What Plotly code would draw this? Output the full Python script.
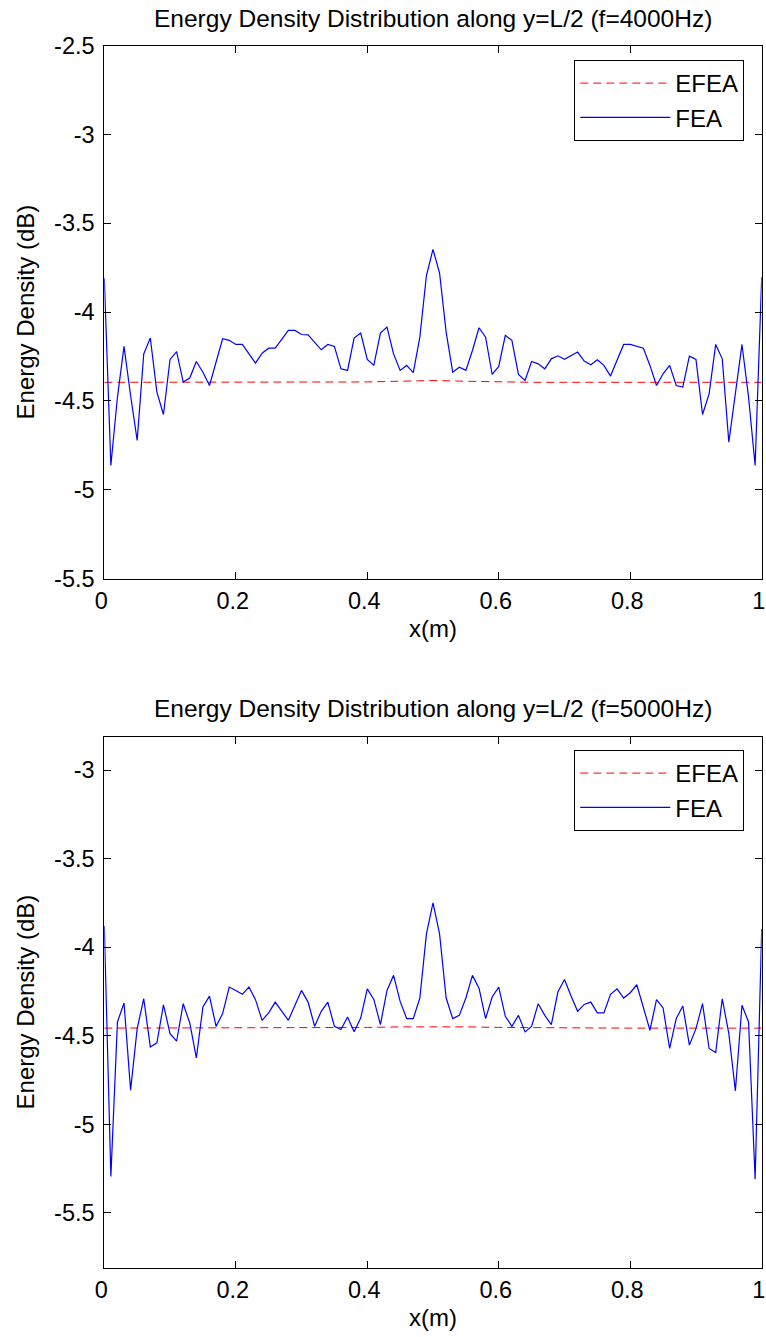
import plotly.graph_objects as go

# ---- data ----
x_pos = [round(i * 0.01, 2) for i in range(101)]

fea_4000 = [
    -3.810, -4.863, -4.478, -4.193, -4.469, -4.722, -4.235, -4.146, -4.450, -4.576,
    -4.266, -4.223, -4.394, -4.371, -4.278, -4.338, -4.413, -4.281, -4.150, -4.159,
    -4.182, -4.182, -4.238, -4.287, -4.231, -4.203, -4.203, -4.150, -4.103, -4.103,
    -4.126, -4.128, -4.169, -4.212, -4.182, -4.193, -4.319, -4.328, -4.146, -4.118,
    -4.266, -4.300, -4.118, -4.084, -4.235, -4.328, -4.300, -4.341, -4.141, -3.794,
    -3.647, -3.780, -4.113, -4.338, -4.310, -4.328, -4.216, -4.088, -4.141, -4.351,
    -4.306, -4.131, -4.159, -4.351, -4.385, -4.278, -4.291, -4.319, -4.263, -4.246,
    -4.265, -4.246, -4.225, -4.276, -4.296, -4.268, -4.300, -4.360, -4.276, -4.182,
    -4.182, -4.193, -4.203, -4.300, -4.413, -4.347, -4.300, -4.413, -4.422, -4.248,
    -4.266, -4.576, -4.460, -4.182, -4.263, -4.732, -4.469, -4.182, -4.478, -4.863,
    -3.803,
]

fea_5000 = [
    -3.880, -5.295, -4.422, -4.315, -4.807, -4.460, -4.291, -4.563, -4.540, -4.325,
    -4.488, -4.531, -4.319, -4.428, -4.625, -4.338, -4.276, -4.447, -4.375, -4.225,
    -4.244, -4.266, -4.225, -4.296, -4.413, -4.371, -4.310, -4.360, -4.413, -4.328,
    -4.244, -4.310, -4.447, -4.362, -4.310, -4.447, -4.465, -4.394, -4.478, -4.400,
    -4.235, -4.295, -4.437, -4.244, -4.159, -4.306, -4.403, -4.403, -4.287, -3.925,
    -3.750, -3.925, -4.287, -4.403, -4.385, -4.287, -4.159, -4.231, -4.403, -4.281,
    -4.225, -4.390, -4.447, -4.385, -4.478, -4.447, -4.319, -4.385, -4.437, -4.253,
    -4.182, -4.276, -4.362, -4.323, -4.310, -4.371, -4.371, -4.266, -4.235, -4.287,
    -4.257, -4.212, -4.343, -4.469, -4.296, -4.343, -4.572, -4.403, -4.332, -4.553,
    -4.460, -4.319, -4.572, -4.595, -4.291, -4.488, -4.811, -4.328, -4.422, -5.310,
    -3.897,
]

efea_x = [0.0, 0.05, 0.1, 0.15, 0.2, 0.25, 0.3, 0.35, 0.4, 0.45, 0.5,
          0.55, 0.6, 0.65, 0.7, 0.75, 0.8, 0.85, 0.9, 0.95, 1.0]
efea_4000 = [-4.395, -4.395, -4.395, -4.395, -4.395, -4.395, -4.395, -4.395, -4.393, -4.389, -4.385,
             -4.389, -4.393, -4.395, -4.395, -4.395, -4.395, -4.395, -4.395, -4.395, -4.395]
efea_5000 = [-4.457, -4.457, -4.457, -4.457, -4.457, -4.457, -4.456, -4.455, -4.453, -4.450, -4.448,
             -4.450, -4.453, -4.455, -4.456, -4.457, -4.457, -4.457, -4.457, -4.457, -4.457]

x_ticks = [0, 0.2, 0.4, 0.6, 0.8, 1]
x_tick_text = ["0", "0.2", "0.4", "0.6", "0.8", "1"]
y_ticks_top = [-5.5, -5, -4.5, -4, -3.5, -3, -2.5]
y_ticks_bot = [-5.5, -5, -4.5, -4, -3.5, -3]

titles = ["Energy Density Distribution along y=L/2 (f=4000Hz)",
          "Energy Density Distribution along y=L/2 (f=5000Hz)"]

FONT = "Liberation Sans, Arial, sans-serif"
W, H = 766, 1337

fig = go.Figure()

fig.add_trace(go.Scatter(x=efea_x, y=efea_4000, mode="lines", name="EFEA",
                         line=dict(color="red", width=1, dash="8px,5px"),
                         xaxis="x", yaxis="y", legend="legend"))
fig.add_trace(go.Scatter(x=x_pos, y=fea_4000, mode="lines", name="FEA",
                         line=dict(color="blue", width=1.2),
                         xaxis="x", yaxis="y", legend="legend"))
fig.add_trace(go.Scatter(x=efea_x, y=efea_5000, mode="lines", name="EFEA",
                         line=dict(color="red", width=1, dash="8px,5px"),
                         xaxis="x2", yaxis="y2", legend="legend2"))
fig.add_trace(go.Scatter(x=x_pos, y=fea_5000, mode="lines", name="FEA",
                         line=dict(color="blue", width=1.2),
                         xaxis="x2", yaxis="y2", legend="legend2"))

xdom = [104.3 / W, 761.7 / W]
ydom_top = [1 - 578.7 / H, 1 - 45.5 / H]
ydom_bot = [1 - 1267.7 / H, 1 - 736.5 / H]

axis_common = dict(
    showgrid=False, zeroline=False, showline=True, linecolor="black", linewidth=1,
    mirror="ticks", ticks="inside", ticklen=7, tickwidth=1, tickcolor="black",
    tickfont=dict(family=FONT, size=23.5, color="black"), automargin=False,
    ticklabeloverflow="allow",
)
xaxis_common = dict(axis_common, range=[0, 1.000001], tickvals=x_ticks, ticktext=x_tick_text,
                    ticklabelstandoff=1, ticklabelshift=-3,
                    title=dict(text="x(m)", font=dict(family=FONT, size=24), standoff=7))
yaxis_title = dict(text="Energy Density (dB)", font=dict(family=FONT, size=24), standoff=12)

legend_common = dict(
    x=574.3 / W, xanchor="left", yanchor="top",
    bgcolor="white", bordercolor="black", borderwidth=1,
    font=dict(family=FONT, size=24, color="black"), itemwidth=90, tracegroupgap=0,
)

fig.update_layout(
    width=W, height=H,
    margin=dict(l=0, r=0, t=0, b=0, autoexpand=False),
    paper_bgcolor="white", plot_bgcolor="white",
    font=dict(family=FONT, size=24, color="black"),
    xaxis=dict(xaxis_common, domain=xdom, anchor="y"),
    yaxis=dict(axis_common, domain=ydom_top, anchor="x", range=[-5.5, -2.5],
               tickvals=y_ticks_top, ticktext=[str(v) for v in y_ticks_top],
               ticklabelstandoff=4, title=yaxis_title),
    xaxis2=dict(xaxis_common, domain=xdom, anchor="y2"),
    yaxis2=dict(axis_common, domain=ydom_bot, anchor="x2", range=[-5.81, -2.81],
                tickvals=y_ticks_bot, ticktext=[str(v) for v in y_ticks_bot],
                ticklabelstandoff=4, title=yaxis_title),
    legend=dict(legend_common, y=1 - 60 / H),
    legend2=dict(legend_common, y=1 - 750 / H),
    showlegend=True,
)

for t, ypx in zip(titles, [18, 708]):
    fig.add_annotation(text=t, xref="paper", yref="paper",
                       x=(xdom[0] + xdom[1]) / 2, y=1 - ypx / H,
                       xanchor="center", yanchor="middle", showarrow=False,
                       font=dict(family=FONT, size=24.5, color="black"))

fig.write_html("out.html")
